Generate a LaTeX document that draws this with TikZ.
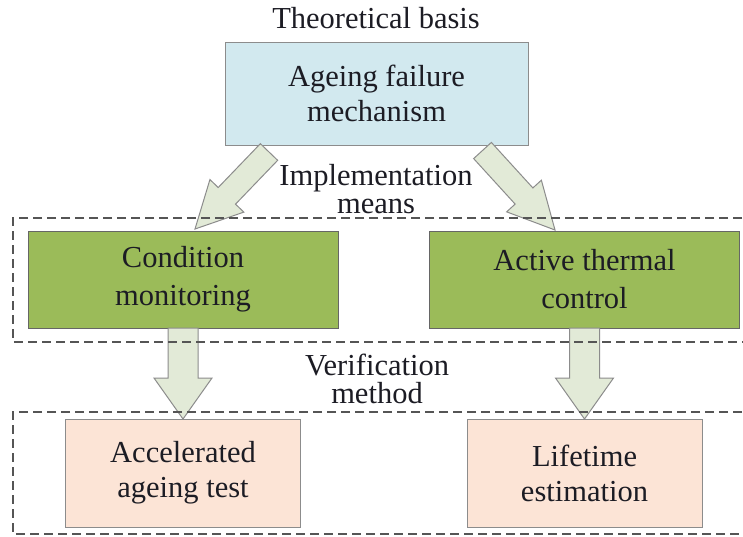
\documentclass[tikz,border=0pt]{standalone}
\usepackage{fontspec}
\setmainfont{Liberation Serif}
\usetikzlibrary{calc}
\definecolor{blueFill}{HTML}{D2E9EF}
\definecolor{greenFill}{HTML}{9BBB59}
\definecolor{pinkFill}{HTML}{FCE4D6}
\definecolor{arrFill}{HTML}{E2EAD7}
\definecolor{arrDraw}{HTML}{8C8C8C}
\definecolor{txt}{HTML}{1C1C24}
\definecolor{dashCol}{HTML}{555555}
\newcommand\fatarrow[5]{%
  \draw[arrowstyle] ($(#1)!#3!90:(#2)$) -- ($(#1)!#3!-90:(#2)$)
    -- ($(#2)!#5!(#1)!#3!-90:(#2)$) -- ($(#2)!#5!(#1)!#4!-90:(#2)$)
    -- (#2) -- ($(#2)!#5!(#1)!#4!90:(#2)$) -- ($(#2)!#5!(#1)!#3!90:(#2)$) -- cycle;}
\tikzset{
  boxstyle/.style={draw, line width=1pt, inner sep=0pt, outer sep=0pt, align=center,
    text=txt, font=\fontsize{30.5}{35}\selectfont},
  topbox/.style={boxstyle, fill=blueFill, draw=arrDraw, minimum width=303pt, minimum height=103pt},
  greenbox/.style={boxstyle, fill=greenFill, draw=black!60, minimum width=310pt, minimum height=97pt,
    font=\fontsize{30.5}{38}\selectfont},
  pinkbox/.style={boxstyle, fill=pinkFill, draw=arrDraw, minimum width=235pt, minimum height=108pt},
  labeltext/.style={align=center, inner sep=0pt, text=txt, font=\fontsize{30.5}{28}\selectfont},
  arrowstyle/.style={fill=arrFill, draw=arrDraw, line width=1pt, line join=miter},
  dashbox/.style={draw=dashCol, line width=2pt, dash pattern=on 9pt off 5pt}
}
\begin{document}
\begin{tikzpicture}[x=1pt,y=-1pt]
\useasboundingbox (0,0) rectangle (743,536);
\clip (0,0) rectangle (743,536);
\fill[white] (0,0) rectangle (743,536);
% boxes
\node[topbox] (top) at (376.5,93.5) {Ageing failure\\mechanism};
\node[greenbox] (gl) at (183,279.5) {Condition\\monitoring};
\node[greenbox] (gr) at (584.5,279.5) {Active thermal\\control};
\node[pinkbox] (pl) at (183,473) {Accelerated\\ageing test};
\node[pinkbox] (pr) at (584.5,473) {Lifetime\\estimation};
% labels
\node[labeltext] (lab1) at (376,18) {Theoretical basis};
\node[labeltext] (lab2) at (376,189) {Implementation\\means};
\node[labeltext] (lab3) at (377,379) {Verification\\method};
% arrow end points
\coordinate (s1) at ($(top.south west)+(44,7)$);
\coordinate (t1) at ($(gl.north)+(12,-2)$);
\coordinate (s2) at ($(top.south east)+(-45.5,5.5)$);
\coordinate (t2) at ($(gr.north)+(-29.5,-1)$);
\fatarrow{s1}{t1}{12pt}{23.5pt}{46pt}
\fatarrow{s2}{t2}{12pt}{23.5pt}{46pt}
\fatarrow{gl.south}{pl.north}{15pt}{29pt}{41pt}
\fatarrow{gr.south}{pr.north}{15pt}{29pt}{41pt}
% dashed groups
\coordinate (d1a) at (770,218);
\coordinate (d1b) at (13,218);
\coordinate (d1c) at (13,342);
\coordinate (d1d) at (770,342);
\draw[dashbox] (d1a) -- (d1b) -- (d1c) -- (d1d);
\coordinate (d2a) at (770,412);
\coordinate (d2b) at (13,412);
\coordinate (d2c) at (13,534);
\coordinate (d2d) at (770,534);
\draw[dashbox] (d2a) -- (d2b) -- (d2c) -- (d2d);
\end{tikzpicture}
\end{document}
